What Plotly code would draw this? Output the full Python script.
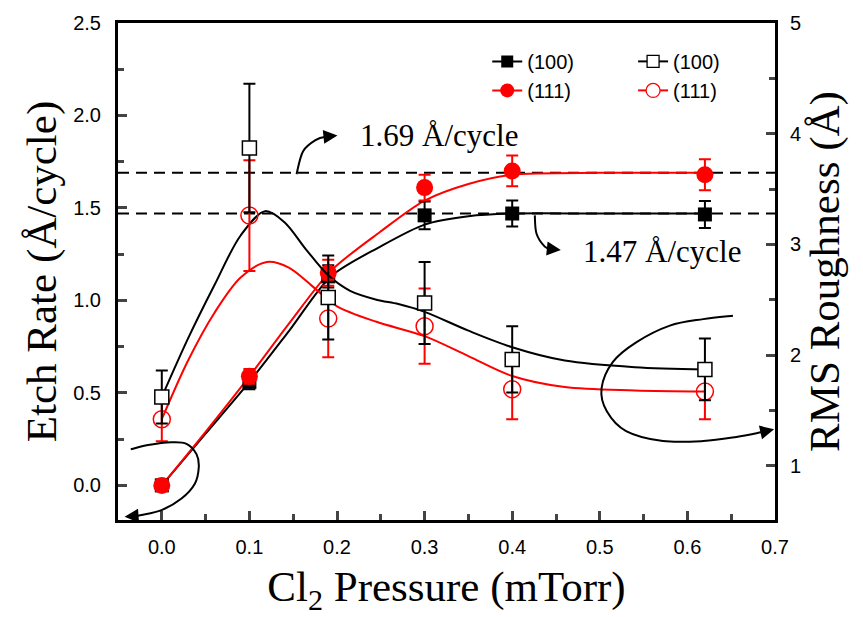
import plotly.graph_objects as go

# ---------------- data ----------------
pressure = [0.0, 0.1, 0.19, 0.3, 0.4, 0.62]

etch_100 = [0.0, 0.56, 1.13, 1.46, 1.47, 1.465]
etch_100_err = [0.03, 0.04, 0.06, 0.075, 0.07, 0.073]
etch_111 = [0.0, 0.59, 1.15, 1.61, 1.70, 1.68]
etch_111_err = [0.03, 0.04, 0.07, 0.07, 0.083, 0.084]

rms_100 = [1.62, 3.87, 2.52, 2.47, 1.96, 1.87]
rms_100_err = [0.24, 0.58, 0.38, 0.37, 0.30, 0.28]
rms_111 = [1.42, 3.26, 2.33, 2.26, 1.69, 1.67]
rms_111_err = [0.20, 0.50, 0.35, 0.34, 0.27, 0.25]

# smoothed guide curves
fit_etch_x = [0.0, 0.05, 0.1, 0.146, 0.193, 0.249, 0.3, 0.35, 0.4, 0.5, 0.62]
fit_etch_100 = [0.0, 0.28, 0.56, 0.84, 1.13, 1.29, 1.41, 1.455, 1.47, 1.47, 1.47]
fit_etch_111 = [0.0, 0.29, 0.59, 0.88, 1.16, 1.37, 1.54, 1.63, 1.68, 1.69, 1.69]

fit_rms100_x = [0.0, 0.03, 0.06, 0.09, 0.118, 0.14, 0.165, 0.19, 0.215,
                0.245, 0.27, 0.3, 0.35, 0.4, 0.46, 0.54, 0.62]
fit_rms_100 = [1.62, 2.15, 2.63, 3.08, 3.30, 3.20, 2.95, 2.72, 2.58,
               2.50, 2.46, 2.39, 2.22, 2.07, 1.95, 1.89, 1.87]
fit_rms111_x = [0.0, 0.03, 0.06, 0.09, 0.12, 0.145, 0.175, 0.2, 0.245,
                0.3, 0.35, 0.4, 0.46, 0.54, 0.62]
fit_rms_111 = [1.42, 1.95, 2.38, 2.70, 2.84, 2.79, 2.60, 2.44, 2.30,
               2.17, 1.99, 1.81, 1.71, 1.68, 1.67]

sat_100 = 1.47
sat_111 = 1.69
legend_labels = ["(100)", "(100)", "(111)", "(111)"]

# decoration arrows (in left-axis data coordinates)
loop_left = [(-0.0354, 0.195), (-0.0156, 0.218), (0.0111, 0.233), (0.0282, 0.225),
             (0.0396, 0.169), (0.0422, 0.098), (0.0377, 0.009), (0.0225, -0.071),
             (-0.0003, -0.134), (-0.0232, -0.160), (-0.034, -0.167)]
loop_left_tip = (-0.0425, -0.170)
loop_right = [(0.652, 0.917), (0.618, 0.899), (0.580, 0.864), (0.542, 0.775),
              (0.515, 0.668), (0.502, 0.525), (0.508, 0.401), (0.530, 0.294),
              (0.572, 0.240), (0.618, 0.240), (0.656, 0.262), (0.684, 0.287)]
loop_right_tip = (0.699, 0.303)
arrow_169 = [(0.1538, 1.683), (0.1613, 1.807), (0.1766, 1.870), (0.188, 1.886)]
arrow_169_tip = (0.2005, 1.892)
arrow_147 = [(0.4258, 1.460), (0.4277, 1.362), (0.4372, 1.291), (0.445, 1.278)]
arrow_147_tip = (0.4555, 1.273)

RED = "#ff0000"
SERIF = "Liberation Serif, Times New Roman, serif"
SANS = "Liberation Sans, Arial, sans-serif"


def smooth_path(pts):
    """Catmull-Rom -> cubic Bezier SVG path through pts."""
    d = "M %f,%f" % pts[0]
    n = len(pts)
    for i in range(n - 1):
        p0 = pts[i - 1] if i > 0 else pts[i]
        p1 = pts[i]
        p2 = pts[i + 1]
        p3 = pts[i + 2] if i + 2 < n else pts[i + 1]
        c1 = (p1[0] + (p2[0] - p0[0]) / 6, p1[1] + (p2[1] - p0[1]) / 6)
        c2 = (p2[0] - (p3[0] - p1[0]) / 6, p2[1] - (p3[1] - p1[1]) / 6)
        d += " C %f,%f %f,%f %f,%f" % (c1 + c2 + p2)
    return d


fig = go.Figure()

# guide curves
fig.add_trace(go.Scatter(x=fit_rms111_x, y=fit_rms_111, yaxis="y2", mode="lines",
                         line=dict(color=RED, width=2, shape="spline", smoothing=0.9),
                         showlegend=False, hoverinfo="skip"))
fig.add_trace(go.Scatter(x=fit_rms100_x, y=fit_rms_100, yaxis="y2", mode="lines",
                         line=dict(color="black", width=2, shape="spline", smoothing=0.9),
                         showlegend=False, hoverinfo="skip"))
fig.add_trace(go.Scatter(x=fit_etch_x, y=fit_etch_100, mode="lines",
                         line=dict(color="black", width=2, shape="spline", smoothing=0.8),
                         showlegend=False, hoverinfo="skip"))
fig.add_trace(go.Scatter(x=fit_etch_x, y=fit_etch_111, mode="lines",
                         line=dict(color=RED, width=2, shape="spline", smoothing=0.8),
                         showlegend=False, hoverinfo="skip"))

# roughness points (right axis)
fig.add_trace(go.Scatter(x=pressure, y=rms_111, yaxis="y2", mode="markers",
                         marker=dict(symbol="circle-open", size=17, color=RED,
                                     line=dict(color=RED, width=1.5)),
                         error_y=dict(type="data", array=rms_111_err, color=RED,
                                      thickness=2, width=6),
                         showlegend=False))
fig.add_trace(go.Scatter(x=pressure, y=rms_100, yaxis="y2", mode="markers",
                         marker=dict(symbol="square", size=14, color="white",
                                     line=dict(color="black", width=1.5)),
                         error_y=dict(type="data", array=rms_100_err, color="black",
                                      thickness=2, width=6),
                         showlegend=False))
# etch-rate points (left axis)
fig.add_trace(go.Scatter(x=pressure, y=etch_100, mode="markers",
                         marker=dict(symbol="square", size=14, color="black"),
                         error_y=dict(type="data", array=etch_100_err, color="black",
                                      thickness=2, width=6),
                         showlegend=False))
fig.add_trace(go.Scatter(x=pressure, y=etch_111, mode="markers",
                         marker=dict(symbol="circle", size=17, color=RED),
                         error_y=dict(type="data", array=etch_111_err, color=RED,
                                      thickness=2, width=6),
                         showlegend=False))

# legend entries
leg_specs = [
    (legend_labels[0], dict(symbol="square", size=12, color="black"), "black", "legend"),
    (legend_labels[2], dict(symbol="circle", size=14, color=RED), RED, "legend"),
    (legend_labels[1], dict(symbol="square", size=12, color="white",
                            line=dict(color="black", width=1.3)), "black", "legend2"),
    (legend_labels[3], dict(symbol="circle", size=14, color="white",
                            line=dict(color=RED, width=1.3)), RED, "legend2"),
]
for name, mk, col, lg in leg_specs:
    fig.add_trace(go.Scatter(x=[None], y=[None], mode="lines+markers", name=name,
                             marker=mk, line=dict(color=col, width=2), legend=lg))

shapes = []
for yv in (sat_111, sat_100):
    shapes.append(dict(type="line", xref="paper", x0=0, x1=1, yref="y", y0=yv, y1=yv,
                       line=dict(color="black", width=2, dash="11px,7px"), layer="below"))
for pts in (loop_left, loop_right, arrow_169, arrow_147):
    shapes.append(dict(type="path", xref="x", yref="y", path=smooth_path(pts),
                       line=dict(color="black", width=2)))

annotations = []
for pts, tip in ((loop_left, loop_left_tip), (loop_right, loop_right_tip),
                 (arrow_169, arrow_169_tip), (arrow_147, arrow_147_tip)):
    annotations.append(dict(x=tip[0], y=tip[1], ax=pts[-1][0], ay=pts[-1][1],
                            xref="x", yref="y", axref="x", ayref="y", text="",
                            showarrow=True, arrowhead=2, arrowsize=1.4,
                            arrowwidth=2, arrowcolor="black"))
annotations.append(dict(x=0.317, y=1.891, xref="x", yref="y", text="1.69 Å/cycle",
                        showarrow=False, font=dict(family=SERIF, size=31, color="black")))
annotations.append(dict(x=0.571, y=1.266, xref="x", yref="y", text="1.47 Å/cycle",
                        showarrow=False, font=dict(family=SERIF, size=31, color="black")))

tickfont = dict(family=SANS, size=20, color="black")
TITLE = 43
fig.update_layout(
    width=863, height=617,
    margin=dict(l=118, r=88, t=17, b=97),
    paper_bgcolor="white", plot_bgcolor="white",
    shapes=shapes, annotations=annotations,
    xaxis=dict(range=[-0.05, 0.7], tickvals=[0, 0.1, 0.2, 0.3, 0.4, 0.5, 0.6, 0.7],
               tickformat=".1f", ticks="inside", ticklen=9, tickwidth=2.5,
               minor=dict(dtick=0.05, ticks="inside", ticklen=6, tickwidth=2.5, tick0=0),
               showline=True, linewidth=3, linecolor="black", mirror=True,
               showgrid=False, zeroline=False, tickfont=tickfont, ticklabelstandoff=7,
               title=dict(text="Cl<sub>2</sub> Pressure (mTorr)",
                          font=dict(family=SERIF, size=TITLE, color="black"), standoff=14)),
    yaxis=dict(range=[-0.187, 2.5], tickvals=[0, 0.5, 1.0, 1.5, 2.0, 2.5],
               tickformat=".1f", ticks="inside", ticklen=9, tickwidth=2.5,
               minor=dict(dtick=0.25, ticks="inside", ticklen=6, tickwidth=2.5, tick0=0),
               showline=True, linewidth=3, linecolor="black",
               showgrid=False, zeroline=False, tickfont=tickfont, ticklabelstandoff=10,
               title=dict(text="Etch Rate (Å/cycle)",
                          font=dict(family=SERIF, size=TITLE, color="black"), standoff=4)),
    yaxis2=dict(range=[0.509, 5], overlaying="y", side="right",
                tickvals=[1, 2, 3, 4, 5], ticks="inside", ticklen=9, tickwidth=2.5,
                minor=dict(dtick=0.5, ticks="inside", ticklen=6, tickwidth=2.5, tick0=0),
                showline=True, linewidth=3, linecolor="black",
                showgrid=False, zeroline=False, tickfont=tickfont, ticklabelstandoff=8,
                title=dict(text="RMS Roughness (Å)",
                           font=dict(family=SERIF, size=TITLE, color="black"), standoff=6)),
    legend=dict(x=0.562, y=0.962, xanchor="left", yanchor="top", bgcolor="rgba(0,0,0,0)",
                font=dict(family=SANS, size=20, color="black"), tracegroupgap=0),
    legend2=dict(x=0.784, y=0.962, xanchor="left", yanchor="top", bgcolor="rgba(0,0,0,0)",
                 font=dict(family=SANS, size=20, color="black"), tracegroupgap=0),
)

fig.write_html("out.html")
